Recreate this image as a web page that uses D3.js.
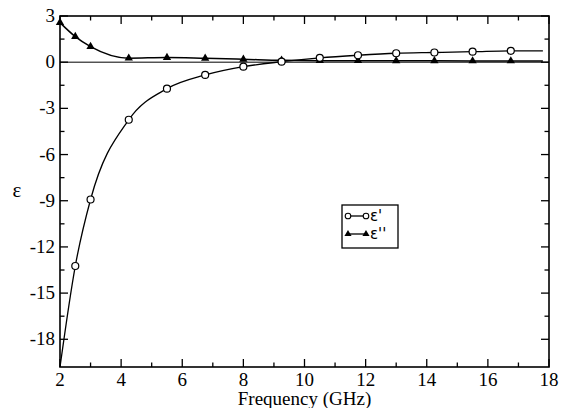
<!DOCTYPE html>
<html>
<head>
<meta charset="utf-8">
<script src="https://cdn.jsdelivr.net/npm/d3@7"></script>
<style>
  body { margin: 0; background: #fff; }
  .serif { font-family: "Times New Roman", Times, Tinos, "Liberation Serif", "DejaVu Serif", "Noto Serif", serif; }
</style>
</head>
<body>
<svg id="chart" width="566" height="408"></svg>
<script>
// frequency (GHz) and permittivity values
const freq1 = [2.0, 2.5, 3.0, 4.25, 5.5, 6.75, 8.0, 9.25, 10.5, 11.75, 13.0, 14.25, 15.5, 16.75, 17.8];
const epsReal = [-19.8, -13.24, -8.92, -3.74, -1.72, -0.83, -0.29, 0.03, 0.28, 0.45, 0.58, 0.63, 0.68, 0.74, 0.74];
const epsImag = [2.57, 1.66, 1.01, 0.26, 0.3, 0.25, 0.19, 0.12, 0.1, 0.1, 0.09, 0.09, 0.08, 0.08, 0.08];
// markers shown at these indices (first/last point of each curve are line-only)
const markReal = [1, 2, 3, 4, 5, 6, 7, 8, 9, 10, 11, 12, 13];
const markImag = [0, 1, 2, 3, 4, 5, 6, 7, 8, 9, 10, 11, 12, 13];

const xTicks = [2, 4, 6, 8, 10, 12, 14, 16, 18];
const yTicks = [3, 0, -3, -6, -9, -12, -15, -18];
const legendLabels = ["ε'", "ε''"];

const svg = d3.select('#chart');
const pL = 60, pR = 549, pT = 16, pB = 367;

const x = d3.scaleLinear().domain([2, 18]).range([pL, pR]);
const y = d3.scaleLinear().domain([-19.8, 3]).range([pB, pT]);

const minorX = d3.range(2, 18.01, 1);
const minorY = d3.range(-18, 3.01, 1.5);

// frame
svg.append('rect')
  .attr('x', pL).attr('y', pT)
  .attr('width', pR - pL).attr('height', pB - pT)
  .attr('fill', 'none').attr('stroke', '#000').attr('stroke-width', 1.6);

// zero line
svg.append('line')
  .attr('x1', pL).attr('x2', pR)
  .attr('y1', y(0)).attr('y2', y(0))
  .attr('stroke', '#000').attr('stroke-width', 1);

const ticks = svg.append('g').attr('stroke', '#000').attr('stroke-width', 1.3);
minorX.forEach(v => {
  const len = xTicks.includes(v) ? 8 : 4.5;
  ticks.append('line').attr('x1', x(v)).attr('x2', x(v)).attr('y1', pB).attr('y2', pB - len);
  ticks.append('line').attr('x1', x(v)).attr('x2', x(v)).attr('y1', pT).attr('y2', pT + len);
});
minorY.forEach(v => {
  const len = yTicks.includes(v) ? 8 : 4.5;
  ticks.append('line').attr('x1', pL).attr('x2', pL + len).attr('y1', y(v)).attr('y2', y(v));
  ticks.append('line').attr('x1', pR).attr('x2', pR - len).attr('y1', y(v)).attr('y2', y(v));
});

// tick labels
svg.append('g').selectAll('text')
  .data(xTicks).enter().append('text')
  .attr('class', 'serif')
  .attr('x', d => x(d)).attr('y', pB + 19)
  .attr('text-anchor', 'middle')
  .attr('font-size', 19)
  .text(d => d);

svg.append('g').selectAll('text')
  .data(yTicks).enter().append('text')
  .attr('class', 'serif')
  .attr('x', pL - 5).attr('y', d => y(d) + 6)
  .attr('text-anchor', 'end')
  .attr('font-size', 19)
  .text(d => d);

// axis titles
svg.append('text')
  .attr('class', 'serif')
  .attr('x', (pL + pR) / 2).attr('y', 405)
  .attr('text-anchor', 'middle')
  .attr('font-size', 19)
  .text('Frequency (GHz)');

svg.append('text')
  .attr('class', 'serif')
  .attr('x', 17).attr('y', 197)
  .attr('text-anchor', 'middle')
  .attr('font-size', 21)
  .text('ε');

// curves
const realPts = freq1.map((f, i) => [f, epsReal[i]]);
const imagPts = freq1.map((f, i) => [f, epsImag[i]]);

const line = d3.line()
  .x(d => x(d[0]))
  .y(d => y(d[1]))
  .curve(d3.curveMonotoneX);

svg.append('path')
  .attr('d', line(imagPts))
  .attr('fill', 'none').attr('stroke', '#000').attr('stroke-width', 1.5);

svg.append('path')
  .attr('d', line(realPts))
  .attr('fill', 'none').attr('stroke', '#000').attr('stroke-width', 1.3);

const tri = d3.symbol().type(d3.symbolTriangle).size(30);

svg.append('g').selectAll('path')
  .data(markImag.map(i => imagPts[i])).enter().append('path')
  .attr('d', tri)
  .attr('transform', d => `translate(${x(d[0])},${y(d[1])})`)
  .attr('fill', '#000');

svg.append('g').selectAll('circle')
  .data(markReal.map(i => realPts[i])).enter().append('circle')
  .attr('cx', d => x(d[0])).attr('cy', d => y(d[1]))
  .attr('r', 3.5)
  .attr('fill', '#fff').attr('stroke', '#000').attr('stroke-width', 1.2);

// legend
const lg = svg.append('g');
lg.append('rect')
  .attr('x', 342).attr('y', 205).attr('width', 56).attr('height', 43)
  .attr('fill', '#fff').attr('stroke', '#000').attr('stroke-width', 1.3);

[0, 1].forEach(i => {
  const yy = 216 + i * 18;
  lg.append('line').attr('x1', 348).attr('x2', 366).attr('y1', yy).attr('y2', yy)
    .attr('stroke', '#000').attr('stroke-width', 1.3);
  if (i === 0) {
    [348, 366].forEach(cx => lg.append('circle').attr('cx', cx).attr('cy', yy).attr('r', 2.8)
      .attr('fill', '#fff').attr('stroke', '#000').attr('stroke-width', 1.1));
  } else {
    [348, 366].forEach(cx => lg.append('path').attr('d', d3.symbol().type(d3.symbolTriangle).size(22))
      .attr('transform', `translate(${cx},${yy})`).attr('fill', '#000'));
  }
  lg.append('text')
    .attr('x', 370).attr('y', yy + 5)
    .attr('font-size', 15)
    .attr('font-family', "'DejaVu Sans', sans-serif")
    .text(legendLabels[i]);
});
</script>
</body>
</html>
